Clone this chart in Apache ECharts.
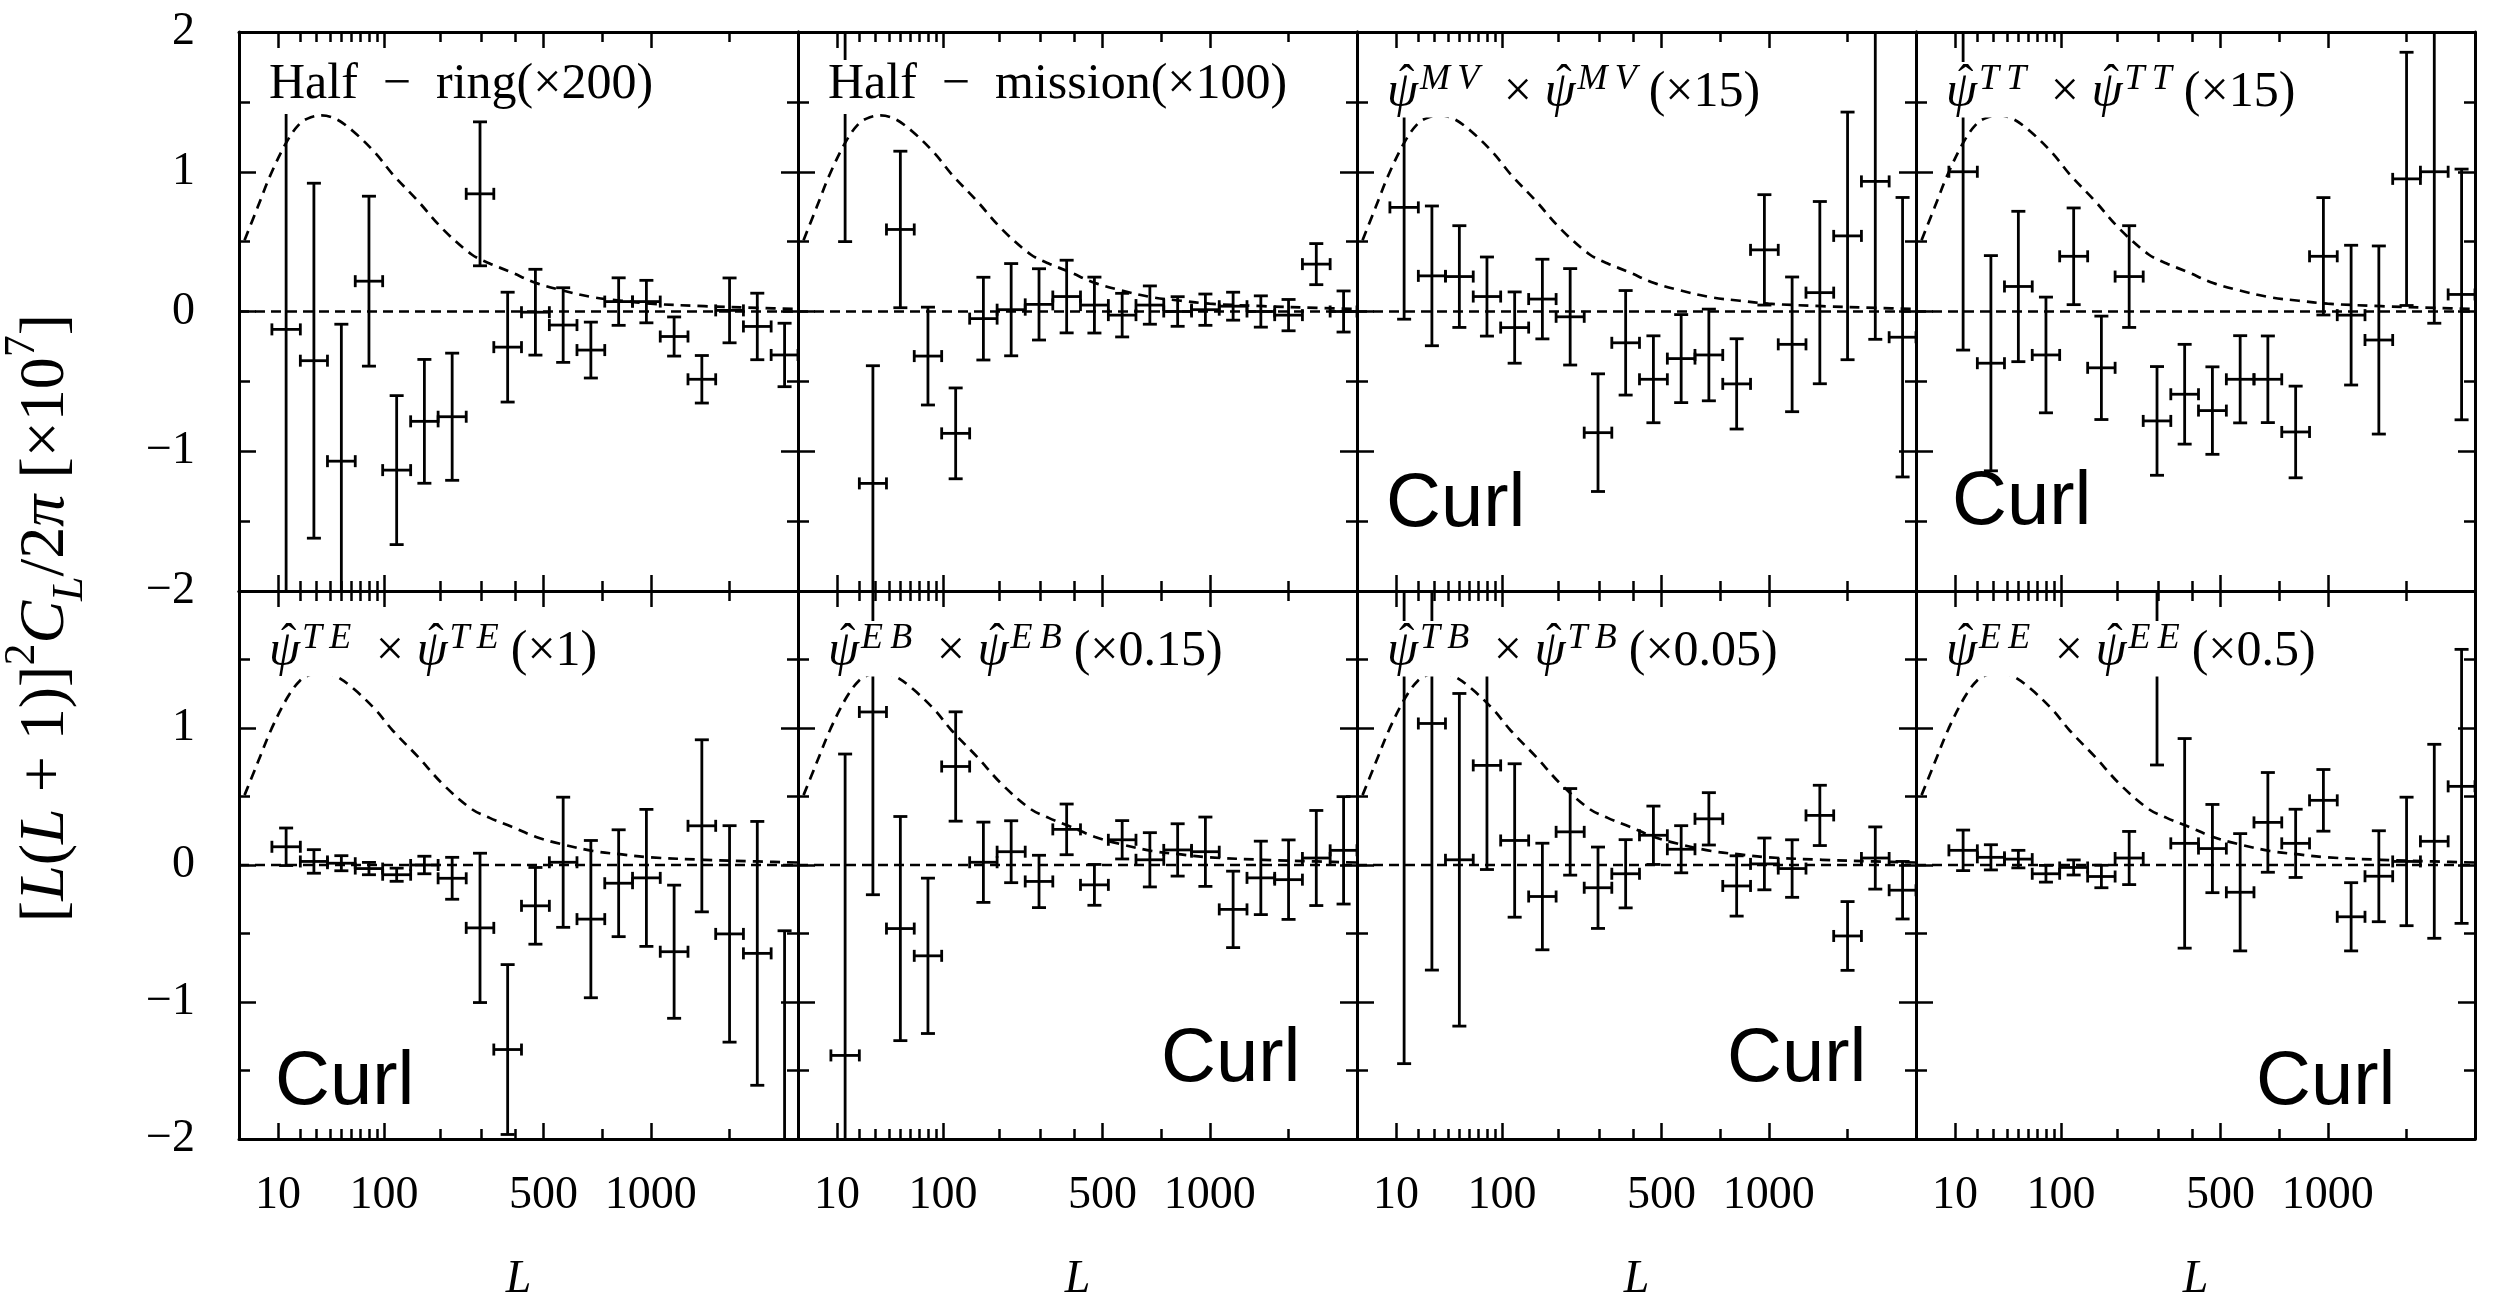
<!DOCTYPE html>
<html><head><meta charset="utf-8">
<script src="https://cdn.jsdelivr.net/npm/echarts@6/dist/echarts.min.js"></script>
<style>html,body{margin:0;padding:0;background:#fff}#c{width:2495px;height:1304px}</style>
</head><body><div id="c"></div>
<script>
// ---------- data ----------
const xPower = 0.4;                 // the L axis is drawn linear in L^0.4
const xMinL = 1.33, xMaxL = 2048;
const binEdgesL = [8,20,38,64,98,142,195,260,335,422,522,634,760,900,1054,1223,1407,1607,1823,2048];
const xMajorTicksL = [10,100,500,1000];
const xMinorTicksL = [20,30,40,50,60,70,80,90,200,300,400,750,1500];
const yMin = -2, yMax = 2;

const theoryL = [2,4.2,7.9,13.8,19.9,26.2,33.4,45,62,88,113,155,206,274,323,388,473,568,706,845,998,1329,1716,2048];
const theoryY = [0.51,0.74,0.995,1.224,1.347,1.39,1.403,1.378,1.288,1.135,0.98,0.791,0.587,0.408,0.344,0.281,0.204,0.153,0.102,0.077,0.056,0.038,0.026,0.018];

const halfRingVal = [-0.128,-0.352,-1.071,0.217,-1.135,-0.786,-0.753,0.842,-0.255,-0.005,-0.097,-0.276,0.071,0.071,-0.179,-0.485,0.008,-0.107,-0.311];
const halfRingErr = [1.88,1.27,0.98,0.608,0.533,0.443,0.455,0.515,0.393,0.307,0.267,0.20,0.17,0.152,0.14,0.17,0.232,0.238,0.227];
const halfMissionVal = [1.7,-1.23,0.587,-0.319,-0.872,-0.051,0.013,0.051,0.107,0.046,-0.026,0.046,0.0,0.013,0.038,0.0,-0.026,0.339,0.0];
const halfMissionErr = [1.2,0.842,0.56,0.35,0.325,0.296,0.33,0.255,0.26,0.2,0.156,0.137,0.106,0.112,0.10,0.112,0.112,0.147,0.147];
const mvVal = [0.745,0.255,0.25,0.107,-0.115,0.089,-0.038,-0.867,-0.224,-0.485,-0.337,-0.311,-0.518,0.441,-0.235,0.135,0.541,0.931,-0.184];
const mvErr = [0.80,0.50,0.364,0.283,0.255,0.285,0.345,0.421,0.374,0.311,0.315,0.328,0.323,0.395,0.482,0.652,0.886,1.13,1.0];
const ttVal = [1.0,-0.37,0.179,-0.311,0.395,-0.403,0.25,-0.783,-0.592,-0.709,-0.485,-0.485,-0.862,0.395,-0.026,-0.204,0.949,1.0,0.122];
const ttErr = [1.276,0.77,0.538,0.414,0.346,0.37,0.364,0.389,0.357,0.313,0.312,0.31,0.328,0.42,0.5,0.673,0.906,1.084,0.897];
const teVal = [0.133,0.026,0.013,-0.026,-0.071,0.0,-0.097,-0.459,-1.347,-0.298,0.020,-0.395,-0.133,-0.094,-0.633,0.286,-0.503,-0.645,-2.25];
const teErr = [0.137,0.086,0.055,0.045,0.048,0.064,0.153,0.545,0.62,0.28,0.475,0.574,0.39,0.50,0.486,0.628,0.79,0.963,1.77];
const ebVal = [-1.39,1.117,-0.464,-0.663,0.719,0.02,0.097,-0.12,0.26,-0.145,0.184,0.038,0.110,0.097,-0.324,-0.094,-0.107,0.051,0.107];
const ebErr = [2.2,1.334,0.818,0.567,0.399,0.293,0.226,0.191,0.185,0.149,0.14,0.198,0.191,0.253,0.279,0.268,0.29,0.347,0.392];
const tbVal = [1.5,1.033,0.038,0.727,0.179,-0.23,0.242,-0.166,-0.064,0.217,0.115,0.337,-0.153,0.008,-0.026,0.362,-0.518,0.051,-0.184];
const tbErr = [2.95,1.80,1.214,0.76,0.56,0.389,0.316,0.297,0.249,0.213,0.172,0.191,0.22,0.189,0.21,0.22,0.251,0.227,0.21];
const eeVal = [0.107,0.056,0.043,-0.064,-0.018,-0.084,0.051,1.6,0.158,0.12,-0.199,0.311,0.158,0.472,-0.378,-0.082,0.026,0.173,0.574];
const eeErr = [0.148,0.092,0.064,0.061,0.055,0.082,0.194,0.87,0.765,0.322,0.428,0.364,0.249,0.225,0.249,0.332,0.469,0.708,1.0];

const psiTitle = (sup, factor) =>
  '{p|ψ}{h|ˆ\u2002}{s|' + sup.split('').join('\u2009') + '}{n| × }{p|ψ}{h|ˆ\u2002}{s|' +
  sup.split('').join('\u2009') + '}{n|(×' + factor + ')}';
const panelTitles = [
  '{n|Half\u2002\u2212\u2002ring(×200)}',
  '{n|Half\u2002\u2212\u2002mission(×100)}',
  psiTitle('MV', '15'),
  psiTitle('TT', '15'),
  psiTitle('TE', '1'),
  psiTitle('EB', '0.15'),
  psiTitle('TB', '0.05'),
  psiTitle('EE', '0.5')
];
const panelVals = [halfRingVal, halfMissionVal, mvVal, ttVal, teVal, ebVal, tbVal, eeVal];
const panelErrs = [halfRingErr, halfMissionErr, mvErr, ttErr, teErr, ebErr, tbErr, eeErr];
const curlLabel = 'Curl';
// curl label placement (px offset from panel left, baseline offset from panel top), null = none
const curlPlace = [null, null, [34,497], [41,495], [41,516], [368,493], [375,493], [345,516]];

// ---------- layout ----------
const tf = L => Math.pow(L, xPower);
const fMin = tf(xMinL), fMax = tf(xMaxL);
const lefts = [239, 798, 1357, 1916], tops = [32, 591], W = 559, H = 559;
const black = '#000';
const serif = "'Liberation Serif','DejaVu Serif',serif";
const sans = "'Liberation Sans',Arial,sans-serif";
const majorF = xMajorTicksL.map(tf), minorF = xMinorTicksL.map(tf);
const fmtY = v => v < 0 ? '\u2212' + Math.abs(v) : String(v);

function renderErr(params, api) {
  const fc = api.value(0), v = api.value(1), lo = api.value(2), hi = api.value(3), e = api.value(4);
  const c = api.coord([fc, v]);
  const l = api.coord([lo, v]), r = api.coord([hi, v]);
  const t = api.coord([fc, v + e]), b = api.coord([fc, v - e]);
  const capV = 7, capH = 6;
  const st = {stroke: black, lineWidth: 2.8, fill: null};
  const ln = (x1,y1,x2,y2) => ({type:'line', shape:{x1,y1,x2,y2}, style: st});
  return {type:'group', children: [
    ln(t[0], t[1], b[0], b[1]),
    ln(t[0]-capV, t[1], t[0]+capV, t[1]),
    ln(b[0]-capV, b[1], b[0]+capV, b[1]),
    ln(l[0], c[1], r[0], c[1]),
    ln(l[0], c[1]-capH, l[0], c[1]+capH),
    ln(r[0], c[1]-capH, r[0], c[1]+capH)
  ]};
}

const grid = [], xAxis = [], yAxis = [], series = [], title = [];
const tickStyle = {color: black, width: 2.5};

for (let i = 0; i < 8; i++) {
  const col = i % 4, row = Math.floor(i / 4);
  grid.push({left: lefts[col], top: tops[row], width: W, height: H, show: false});
  const mkX = (pos, major) => ({
    type: 'value', gridIndex: i, position: pos, min: fMin, max: fMax,
    splitLine: {show: false},
    axisLine: {show: major, onZero: false, lineStyle: {color: black, width: 3}},
    axisTick: {show: true, inside: true, customValues: major ? majorF : minorF, length: major ? 16 : 10, lineStyle: tickStyle},
    axisLabel: (major && pos === 'bottom' && row === 1) ? {
      show: true, customValues: majorF, margin: 34,
      formatter: v => String(Math.round(Math.pow(v, 1 / xPower))),
      fontFamily: serif, fontSize: 46, color: black
    } : {show: false},
    name: (major && pos === 'bottom' && row === 1) ? 'L' : '',
    nameLocation: 'middle', nameGap: 118,
    nameTextStyle: {fontFamily: serif, fontStyle: 'italic', fontSize: 46, color: black}
  });
  xAxis.push(mkX('bottom', true), mkX('bottom', false), mkX('top', true), mkX('top', false));
  const mkY = (pos) => ({
    type: 'value', gridIndex: i, position: pos, min: yMin, max: yMax, interval: 1,
    splitLine: {show: false},
    axisLine: {show: true, onZero: false, lineStyle: {color: black, width: 3}},
    axisTick: {show: true, inside: true, length: 17, lineStyle: tickStyle},
    minorTick: {show: true, splitNumber: 2, length: 11, lineStyle: tickStyle},
    axisLabel: (pos === 'left' && col === 0) ? {
      show: true, margin: 44, fontFamily: serif, fontSize: 46, color: black,
      formatter: v => (row === 1 && v === yMax) ? '' : fmtY(v)
    } : {show: false}
  });
  yAxis.push(mkY('left'), mkY('right'));

  const xi = 4 * i, yi = 2 * i;
  series.push({
    type: 'line', xAxisIndex: xi, yAxisIndex: yi, silent: true, symbol: 'none', z: 2,
    data: [[fMin, 0], [fMax, 0]],
    lineStyle: {color: black, width: 2.4, type: [10, 6]}
  });
  series.push({
    type: 'line', xAxisIndex: xi, yAxisIndex: yi, silent: true, symbol: 'none', smooth: 0.35, z: 2,
    data: theoryL.map((L, k) => [tf(L), theoryY[k]]),
    lineStyle: {color: black, width: 2.7, type: [10, 7]}
  });
  const vals = panelVals[i], errs = panelErrs[i];
  series.push({
    type: 'custom', xAxisIndex: xi, yAxisIndex: yi, clip: true, silent: true, z: 3,
    renderItem: renderErr,
    data: vals.map((v, j) => {
      const lo = tf(binEdgesL[j]), hi = tf(binEdgesL[j + 1]);
      return [(lo + hi) / 2, v, lo, hi, errs[j]];
    })
  });

  const isPsi = i >= 2;
  title.push({
    left: lefts[col] + 26, top: tops[row] + 30,
    text: panelTitles[i], backgroundColor: '#fff',
    padding: isPsi ? [0, 6, 0, 4] : [0, 6, 4, 4],
    textStyle: {
      fontFamily: serif, fontSize: 49, fontWeight: 'normal', color: black,
      rich: {
        p: {fontFamily: serif, fontStyle: 'italic', fontSize: 50, lineHeight: isPsi ? 61 : 46, verticalAlign: 'middle', color: black},
        h: {fontFamily: serif, fontSize: 46, width: 0, align: 'center', lineHeight: 46, verticalAlign: 'top', color: black},
        s: {fontFamily: serif, fontStyle: 'italic', fontSize: 36, lineHeight: 38, verticalAlign: 'top', color: black, padding: [0, 12, 0, 2]},
        n: {fontFamily: serif, fontSize: 50, lineHeight: isPsi ? 61 : 46, verticalAlign: 'middle', color: black}
      }
    }
  });
  if (curlPlace[i]) {
    title.push({
      left: lefts[col] + curlPlace[i][0] - 5, top: tops[row] + curlPlace[i][1] - 62,
      text: curlLabel, padding: 0,
      textStyle: {fontFamily: sans, fontSize: 76, fontWeight: 'normal', color: black, lineHeight: 76}
    });
  }
}

const chart = echarts.init(document.getElementById('c'), null, {width: 2495, height: 1304});
chart.setOption({
  animation: false,
  backgroundColor: '#fff',
  grid, xAxis, yAxis, series, title,
  graphic: [{
    type: 'text', x: 46, y: 618, rotation: Math.PI / 2, silent: true,
    style: {
      text: '{b|[}{i|L}{b|(}{i|L}{b| + 1)]}{sup|2}{i|C}{sub|L}{b|/2}{i|π}{b| [×10}{sup|7}{b|]}',
      align: 'center', verticalAlign: 'middle', fill: black,
      fontFamily: serif, fontSize: 64,
      rich: {
        b: {fontFamily: serif, fontSize: 64, lineHeight: 92, verticalAlign: 'middle', color: black},
        i: {fontFamily: serif, fontStyle: 'italic', fontSize: 64, lineHeight: 92, verticalAlign: 'middle', color: black},
        sup: {fontFamily: serif, fontSize: 44, lineHeight: 52, verticalAlign: 'top', color: black},
        sub: {fontFamily: serif, fontStyle: 'italic', fontSize: 44, lineHeight: 54, verticalAlign: 'bottom', color: black}
      }
    }
  }]
});
</script>
</body></html>
